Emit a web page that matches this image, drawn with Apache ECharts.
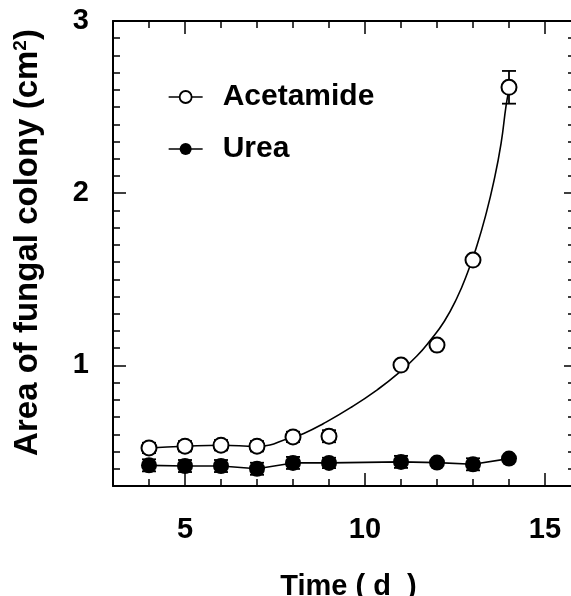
<!DOCTYPE html>
<html>
<head>
<meta charset="utf-8">
<script src="https://cdn.jsdelivr.net/npm/echarts@6/dist/echarts.min.js"></script>
<style>
  html, body { margin: 0; padding: 0; background: #fff; }
  #chart { width: 571px; height: 596px; }
</style>
</head>
<body>
<div id="chart"></div>
<script>
// measured values (day, area cm2)
const days = [4, 5, 6, 7, 8, 9, 11, 12, 13, 14];
const acetamide = [0.521, 0.531, 0.537, 0.531, 0.585, 0.589, 1.002, 1.118, 1.612, 2.615];
const acetamideErr = [0.03, 0.03, 0.03, 0.03, 0.03, 0.035, 0, 0, 0, 0.095];
const urea = [0.42, 0.416, 0.416, 0.40, 0.434, 0.434, 0.44, 0.436, 0.426, 0.459];
const ureaErr = [0.035, 0.035, 0.035, 0.035, 0.035, 0.03, 0.035, 0, 0.035, 0];

// fitted curve for acetamide
const fitX = [4, 5, 6, 7, 8, 8.3, 8.85, 9.6, 10.35, 10.93, 11.44, 11.81, 12.2, 12.55, 12.85, 13.1, 13.35, 13.58, 13.78, 13.92, 14];
const fitY = [0.521, 0.531, 0.537, 0.531, 0.585, 0.605, 0.663, 0.755, 0.86, 0.955, 1.055, 1.145, 1.255, 1.39, 1.54, 1.69, 1.87, 2.07, 2.29, 2.51, 2.6];

const xLabels = [5, 10, 15];
const yLabels = [1, 2, 3];
const yMajor = [1, 2];

const font = '"Liberation Sans", Arial, sans-serif';
const black = '#000';

const errData = (vals, errs) =>
  days.map((d, i) => [d, vals[i] - errs[i], vals[i] + errs[i]]).filter((v, i) => errs[i] > 0);

const errorBars = (params, api) => {
  const x = api.value(0);
  const lo = api.coord([x, api.value(1)]);
  const hi = api.coord([x, api.value(2)]);
  const w = 7;
  const st = { stroke: black, lineWidth: 1.8 };
  return {
    type: 'group',
    children: [
      { type: 'line', shape: { x1: hi[0], y1: hi[1], x2: lo[0], y2: lo[1] }, style: st },
      { type: 'line', shape: { x1: hi[0] - w, y1: hi[1], x2: hi[0] + w, y2: hi[1] }, style: st },
      { type: 'line', shape: { x1: lo[0] - w, y1: lo[1], x2: lo[0] + w, y2: lo[1] }, style: st }
    ]
  };
};

const baseX = { type: 'value', min: 3, max: 15.75, splitLine: { show: false } };
const baseY = { type: 'value', min: 0.3, max: 3, splitLine: { show: false } };
const tick = (len, vals) => ({
  inside: true, length: len, customValues: vals,
  lineStyle: { color: black, width: 1.5 }
});

const chart = echarts.init(document.getElementById('chart'));
chart.setOption({
  backgroundColor: '#fff',
  animation: false,
  grid: { left: 113, top: 21, width: 459, height: 465, outerBoundsMode: 'none', containLabel: false },
  legend: {
    orient: 'vertical',
    left: 168,
    top: 82,
    padding: 0,
    itemWidth: 34,
    itemHeight: 15,
    itemGap: 22,
    textStyle: { fontFamily: font, fontSize: 30, fontWeight: 'bold', color: black, padding: [0, 0, 0, 15] },
    lineStyle: { color: black, width: 1.3, opacity: 1 },
    data: [
      { name: 'Acetamide', itemStyle: { color: '#fff', borderColor: black, borderWidth: 1.8 } },
      { name: 'Urea', itemStyle: { color: black, borderColor: black, borderWidth: 0 } }
    ]
  },
  xAxis: [
    Object.assign({}, baseX, {
      position: 'bottom', interval: 1,
      axisLine: { onZero: false, lineStyle: { color: black, width: 2 } },
      axisTick: { inside: true, length: 7, lineStyle: { color: black, width: 1.5 } },
      axisLabel: { customValues: xLabels, margin: 29, fontFamily: font, fontSize: 29, fontWeight: 'bold', color: black },
      name: 'Time ( d  )', nameLocation: 'middle', nameGap: 86,
      nameTextStyle: { fontFamily: font, fontSize: 29, fontWeight: 'bold', color: black, padding: [0, 0, 0, 12] }
    }),
    Object.assign({}, baseX, {
      position: 'bottom', axisLine: { show: false }, axisLabel: { show: false },
      axisTick: tick(13, xLabels)
    }),
    Object.assign({}, baseX, {
      position: 'top', interval: 1,
      axisLine: { onZero: false, lineStyle: { color: black, width: 2 } },
      axisTick: { inside: true, length: 7, lineStyle: { color: black, width: 1.5 } },
      axisLabel: { show: false }
    }),
    Object.assign({}, baseX, {
      position: 'top', axisLine: { show: false }, axisLabel: { show: false },
      axisTick: tick(13, xLabels)
    })
  ],
  yAxis: [
    Object.assign({}, baseY, {
      position: 'left', interval: 0.1,
      axisLine: { onZero: false, lineStyle: { color: black, width: 2 } },
      axisTick: { inside: true, length: 7, lineStyle: { color: black, width: 1.5 } },
      axisLabel: { customValues: yLabels, margin: 24, padding: [5, 0, 0, 0], fontFamily: font, fontSize: 29, fontWeight: 'bold', color: black },
      name: 'Area of fungal colony (cm{sup|2})', nameLocation: 'middle', nameGap: 69, nameRotate: 90,
      nameTextStyle: {
        fontFamily: font, fontSize: 33, fontWeight: 'bold', color: black, padding: [0, 0, 0, 22],
        rich: { sup: { fontFamily: font, fontSize: 19, fontWeight: 'bold', color: black, verticalAlign: 'top' } }
      }
    }),
    Object.assign({}, baseY, {
      position: 'left', axisLine: { show: false }, axisLabel: { show: false },
      axisTick: tick(13, yMajor)
    }),
    Object.assign({}, baseY, {
      position: 'right', interval: 0.1,
      axisLine: { onZero: false, lineStyle: { color: black, width: 2 } },
      axisTick: { inside: true, length: 4, lineStyle: { color: black, width: 1.5 } },
      axisLabel: { show: false }
    }),
    Object.assign({}, baseY, {
      position: 'right', axisLine: { show: false }, axisLabel: { show: false },
      axisTick: tick(8, yMajor)
    })
  ],
  series: [
    {
      name: 'fit',
      type: 'line',
      data: fitX.map((x, i) => [x, fitY[i]]),
      smooth: 0.5,
      showSymbol: false,
      lineStyle: { color: black, width: 1.6 },
      z: 2,
      silent: true
    },
    {
      type: 'custom',
      renderItem: errorBars,
      data: errData(acetamide, acetamideErr),
      z: 3
    },
    {
      type: 'custom',
      renderItem: errorBars,
      data: errData(urea, ureaErr),
      z: 3
    },
    {
      name: 'Urea',
      type: 'line',
      data: days.map((d, i) => [d, urea[i]]),
      symbol: 'circle',
      symbolSize: 16,
      itemStyle: { color: black },
      lineStyle: { color: black, width: 1.6 },
      z: 4
    },
    {
      name: 'Acetamide',
      type: 'line',
      data: days.map((d, i) => [d, acetamide[i]]),
      symbol: 'circle',
      symbolSize: 15,
      itemStyle: { color: '#fff', borderColor: black, borderWidth: 2 },
      lineStyle: { opacity: 0 },
      z: 5
    }
  ]
});
</script>
</body>
</html>
